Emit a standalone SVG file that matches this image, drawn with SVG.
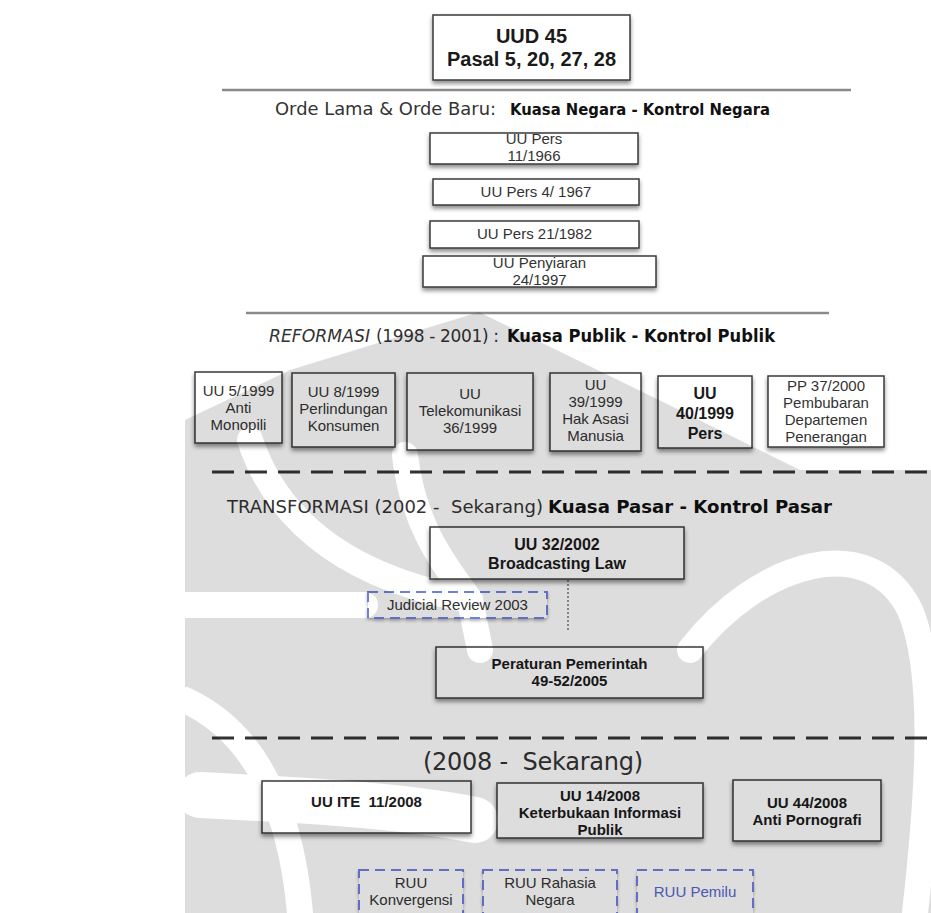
<svg xmlns="http://www.w3.org/2000/svg" width="931" height="913" viewBox="0 0 931 913">
<style>
.box{fill:#fff;stroke:#3a3a3a;stroke-width:1.5;filter:url(#sh)}
.dbox{fill:#fff;stroke:#6f7fe0;stroke-width:2;stroke-dasharray:10 6;filter:url(#sh2)}
.t{font-family:"Liberation Sans",Arial,sans-serif;font-size:15px;fill:#333;text-anchor:middle}
.b{font-family:"Liberation Sans",Arial,sans-serif;font-size:15px;font-weight:bold;fill:#1a1a1a;text-anchor:middle}
.b16{font-size:16px}
.b20{font-size:20px}
.h{font-family:"DejaVu Sans","Liberation Sans",sans-serif;fill:#333}
.hb{font-family:"DejaVu Sans","Liberation Sans",sans-serif;font-weight:bold;fill:#111}
.sep{stroke:#8a8a8a;stroke-width:2.5}
.dash{stroke:#333;stroke-width:3;stroke-dasharray:22 11}
</style>
<defs>
<filter id="sh" x="-10%" y="-20%" width="120%" height="150%">
<feDropShadow dx="0" dy="3" stdDeviation="2" flood-color="#000" flood-opacity="0.45"/>
</filter>
<filter id="sh2" x="-10%" y="-20%" width="120%" height="150%">
<feDropShadow dx="0" dy="2" stdDeviation="1.5" flood-color="#000" flood-opacity="0.3"/>
</filter>
<mask id="wm">
<rect x="0" y="0" width="931" height="913" fill="#fff"/>
<g fill="none" stroke="#000" stroke-width="26" stroke-linecap="round">
<path d="M250,440 C280,530 360,580 470,600"/>
<path d="M405,455 C412,520 440,560 470,600 L480,650"/>
<path d="M185,605 L365,605"/>
<path d="M690,650 C760,560 870,530 910,610 C935,670 930,780 915,913"/>
<path d="M185,700 C250,730 290,800 300,913"/>
<path d="M200,795 C300,800 400,805 475,820" stroke-width="46"/>
</g>
</mask>
</defs>

<rect x="0" y="0" width="931" height="913" fill="#fff"/>

<g id="separators">
<line class="sep" x1="222" y1="90" x2="851" y2="90"/>
<line class="sep" x1="246" y1="313" x2="829" y2="313"/>
<line class="dash" x1="212" y1="472" x2="931" y2="472"/>
<line class="dash" x1="212" y1="738" x2="931" y2="738"/>
</g>

<g id="headings">
<text class="h" x="275" y="115" font-size="17" textLength="221" lengthAdjust="spacingAndGlyphs">Orde Lama &amp; Orde Baru:</text>
<text class="hb" x="510" y="115" font-size="16" textLength="260" lengthAdjust="spacingAndGlyphs">Kuasa Negara - Kontrol Negara</text>
<text class="h" x="269" y="342" font-size="17" font-style="italic" textLength="101" lengthAdjust="spacingAndGlyphs">REFORMASI</text>
<text class="h" x="376" y="342" font-size="17" textLength="123" lengthAdjust="spacing">(1998 - 2001) :</text>
<text class="hb" x="507" y="342" font-size="17" textLength="268" lengthAdjust="spacingAndGlyphs">Kuasa Publik - Kontrol Publik</text>
<text class="h" x="227" y="513" font-size="18" xml:space="preserve" textLength="316" lengthAdjust="spacing">TRANSFORMASI (2002 -  Sekarang)</text>
<text class="hb" x="548" y="513" font-size="18" textLength="284" lengthAdjust="spacingAndGlyphs">Kuasa Pasar - Kontrol Pasar</text>
<text class="h" x="423" y="770" font-size="24" xml:space="preserve" textLength="220" lengthAdjust="spacing">(2008 -  Sekarang)</text>
</g>

<g id="connectors">
<line x1="568" y1="580" x2="568" y2="632" stroke="#777" stroke-width="1.5" stroke-dasharray="2 2"/>
</g>

<g id="uud45">
<rect class="box" x="433" y="15" width="197" height="65"/>
<text class="b b20" x="531.5" y="43">UUD 45</text>
<text class="b b20" x="531.5" y="66">Pasal 5, 20, 27, 28</text>
</g>

<g id="uu-pers-11-1966">
<rect class="box" x="430" y="133" width="208" height="31"/>
<text class="t" x="534" y="144">UU Pers</text>
<text class="t" x="534" y="161">11/1966</text>
</g>
<g id="uu-pers-4-1967">
<rect class="box" x="433" y="179" width="206" height="26"/>
<text class="t" x="536" y="197">UU Pers 4/ 1967</text>
</g>
<g id="uu-pers-21-1982">
<rect class="box" x="430" y="221" width="209" height="27"/>
<text class="t" x="534.5" y="239">UU Pers 21/1982</text>
</g>
<g id="uu-penyiaran">
<rect class="box" x="423" y="256" width="233" height="31"/>
<text class="t" x="539.5" y="268">UU Penyiaran</text>
<text class="t" x="539.5" y="285">24/1997</text>
</g>

<g id="uu-5-1999">
<rect class="box" x="195" y="372" width="87" height="71"/>
<text class="t" x="238.5" y="396">UU 5/1999</text>
<text class="t" x="238.5" y="413">Anti</text>
<text class="t" x="238.5" y="430">Monopili</text>
</g>
<g id="uu-8-1999">
<rect class="box" x="292" y="373" width="103" height="74"/>
<text class="t" x="343.5" y="397">UU 8/1999</text>
<text class="t" x="343.5" y="414">Perlindungan</text>
<text class="t" x="343.5" y="431">Konsumen</text>
</g>
<g id="uu-telekomunikasi">
<rect class="box" x="407" y="373" width="126" height="77"/>
<text class="t" x="470" y="399">UU</text>
<text class="t" x="470" y="416">Telekomunikasi</text>
<text class="t" x="470" y="433">36/1999</text>
</g>
<g id="uu-39-1999">
<rect class="box" x="550" y="373" width="91" height="78"/>
<text class="t" x="595.5" y="390">UU</text>
<text class="t" x="595.5" y="407">39/1999</text>
<text class="t" x="595.5" y="424">Hak Asasi</text>
<text class="t" x="595.5" y="441">Manusia</text>
</g>
<g id="uu-40-1999">
<rect class="box" x="658" y="376" width="94" height="72"/>
<text class="b b16" x="705" y="399">UU</text>
<text class="b b16" x="705" y="419">40/1999</text>
<text class="b b16" x="705" y="439">Pers</text>
</g>
<g id="pp-37-2000">
<rect class="box" x="768" y="376" width="116" height="71"/>
<text class="t" x="826" y="391">PP 37/2000</text>
<text class="t" x="826" y="408">Pembubaran</text>
<text class="t" x="826" y="425">Departemen</text>
<text class="t" x="826" y="442">Penerangan</text>
</g>

<g id="uu-32-2002">
<rect class="box" x="430" y="527" width="254" height="52"/>
<text class="b b16" x="557" y="550">UU 32/2002</text>
<text class="b b16" x="557" y="569">Broadcasting Law</text>
</g>
<g id="judicial-review">
<rect class="dbox" x="368" y="592" width="179" height="26"/>
<text class="t" x="457.5" y="610">Judicial Review 2003</text>
</g>
<g id="peraturan-pemerintah">
<rect class="box" x="436" y="647" width="267" height="51"/>
<text class="b" x="569.5" y="669">Peraturan Pemerintah</text>
<text class="b" x="569.5" y="686">49-52/2005</text>
</g>

<g id="uu-ite">
<rect class="box" x="262" y="781" width="209" height="52"/>
<text class="b" x="366.5" y="807" xml:space="preserve">UU ITE  11/2008</text>
</g>
<g id="uu-14-2008">
<rect class="box" x="497" y="783" width="206" height="55"/>
<text class="b" x="600" y="801">UU 14/2008</text>
<text class="b" x="600" y="818">Keterbukaan Informasi</text>
<text class="b" x="600" y="835">Publik</text>
</g>
<g id="uu-44-2008">
<rect class="box" x="733" y="780" width="148" height="61"/>
<text class="b" x="807" y="808">UU 44/2008</text>
<text class="b" x="807" y="825">Anti Pornografi</text>
</g>

<g id="ruu-konvergensi">
<rect class="dbox" x="359" y="870" width="104" height="52"/>
<text class="t" x="411" y="888">RUU</text>
<text class="t" x="411" y="905">Konvergensi</text>
</g>
<g id="ruu-rahasia-negara">
<rect class="dbox" x="483" y="870" width="134" height="52"/>
<text class="t" x="550" y="888">RUU Rahasia</text>
<text class="t" x="550" y="905">Negara</text>
</g>
<g id="ruu-pemilu">
<rect class="dbox" x="637" y="870" width="116" height="52"/>
<text class="t" x="695" y="897" style="fill:#5566cc">RUU Pemilu</text>
</g>

<g id="watermark" mask="url(#wm)" opacity="0.13">
<path d="M479,312 L290,370 L185,420 L185,913 L931,913 L931,470 L800,470 L659,400 Z" fill="#000"/>
</g>
</svg>
